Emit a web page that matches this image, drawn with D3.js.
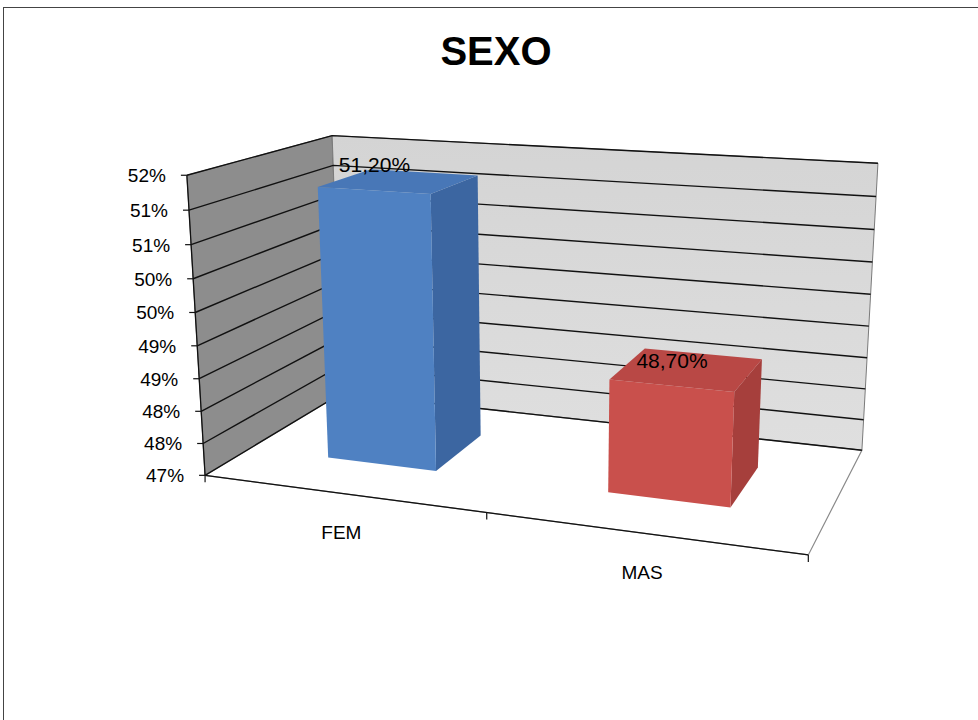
<!DOCTYPE html>
<html>
<head>
<meta charset="utf-8">
<script src="https://cdn.jsdelivr.net/npm/d3@7"></script>
<style>
  body { margin: 0; background: #fff; }
  svg { display: block; }
  text { font-family: "Liberation Sans", Arial, sans-serif; fill: #000; }
</style>
</head>
<body>
<svg id="chart" width="978" height="720"></svg>
<script>
// ---- data ----
const title = "SEXO";
const categories = ["FEM", "MAS"];
const values = [51.2, 48.7];
const valueLabels = ["51,20%", "48,70%"];
const tickValues = [47, 47.5, 48, 48.5, 49, 49.5, 50, 50.5, 51, 51.5];
const tickLabels = ["47%", "48%", "48%", "49%", "49%", "50%", "50%", "51%", "51%", "52%"];

// ---- styling ----
const palette = [
  { front: "#4f81c2", side: "#3c66a1", top: "#4877b7" },
  { front: "#c9504c", side: "#a63f3c", top: "#b94845" }
];

// The plot box is a unit cube (u: category, v: value, w: depth) seen in
// perspective; screen positions of its visible corners define the camera.
const boxCorners = [
  [[0, 0, 0], [205, 473]],
  [[0, 1, 0], [187, 175]],
  [[0, 1, 1], [332, 136]],
  [[1, 1, 1], [878, 163]],
  [[1, 0, 1], [862, 450]],
  [[1, 0, 0], [808, 553]],
  [[0.5, 0, 0], [487, 517]]
];

// Least-squares fit of a 3x4 projection matrix (last entry fixed to 1).
function fitCamera(pairs) {
  const A = [], b = [];
  pairs.forEach(([[u, v, w], [X, Y]]) => {
    A.push([u, v, w, 1, 0, 0, 0, 0, -X * u, -X * v, -X * w]); b.push(X);
    A.push([0, 0, 0, 0, u, v, w, 1, -Y * u, -Y * v, -Y * w]); b.push(Y);
  });
  const n = 11;
  const M = [];
  for (let i = 0; i < n; i++) {
    const row = new Array(n + 1).fill(0);
    for (let k = 0; k < A.length; k++) {
      for (let j = 0; j < n; j++) row[j] += A[k][i] * A[k][j];
      row[n] += A[k][i] * b[k];
    }
    M.push(row);
  }
  for (let c = 0; c < n; c++) {
    let piv = c;
    for (let r = c + 1; r < n; r++) if (Math.abs(M[r][c]) > Math.abs(M[piv][c])) piv = r;
    [M[c], M[piv]] = [M[piv], M[c]];
    for (let r = 0; r < n; r++) {
      if (r === c) continue;
      const f = M[r][c] / M[c][c];
      for (let k = c; k <= n; k++) M[r][k] -= f * M[c][k];
    }
  }
  return M.map((row, i) => row[n] / row[i]);
}

const P = fitCamera(boxCorners);
function project(u, v, w) {
  const d = P[8] * u + P[9] * v + P[10] * w + 1;
  return [
    (P[0] * u + P[1] * v + P[2] * w + P[3]) / d,
    (P[4] * u + P[5] * v + P[6] * w + P[7]) / d
  ];
}
const poly = pts => "M" + pts.map(p => project(...p).map(c => c.toFixed(2)).join(",")).join("L") + "Z";
const path = pts => "M" + pts.map(p => project(...p).map(c => c.toFixed(2)).join(",")).join("L");

// ---- scales ----
const xBand = d3.scaleBand().domain(categories).range([0, 1]).paddingInner(0.6).paddingOuter(0.3);
const vScale = d3.scaleLinear().domain([47, 51.5]).range([0, 1]);
const depth = [0.3, 0.7];

const svg = d3.select("#chart");

// chart area frame
svg.append("rect").attr("x", 3.5).attr("y", 7.5).attr("width", 1000).attr("height", 800)
  .attr("fill", "#fff").attr("stroke", "#444").attr("stroke-width", 1);

svg.append("text").attr("x", 496).attr("y", 65).attr("text-anchor", "middle")
  .attr("font-size", 40).attr("font-weight", "bold").text(title);

const defs = svg.append("defs");
const bw = defs.append("linearGradient").attr("id", "backWall").attr("x1", 0).attr("y1", 0).attr("x2", 0).attr("y2", 1);
bw.append("stop").attr("offset", 0).attr("stop-color", "#d4d4d4");
bw.append("stop").attr("offset", 1).attr("stop-color", "#dfdfdf");

const plot = svg.append("g");

// walls and floor
plot.append("path").attr("d", poly([[0, 0, 0], [0, 1, 0], [0, 1, 1], [0, 0, 1]]))
  .attr("fill", "#8d8d8d").attr("stroke", "#6a6a6a").attr("stroke-width", 1);
plot.append("path").attr("d", poly([[0, 0, 1], [0, 1, 1], [1, 1, 1], [1, 0, 1]]))
  .attr("fill", "url(#backWall)").attr("stroke", "#7a7a7a").attr("stroke-width", 1);
plot.append("path").attr("d", poly([[0, 0, 0], [1, 0, 0], [1, 0, 1], [0, 0, 1]]))
  .attr("fill", "#fff").attr("stroke", "#8a8a8a").attr("stroke-width", 1.2);

// gridlines across both walls
plot.append("g").selectAll("path").data(tickValues).join("path")
  .attr("d", t => path([[0, vScale(t), 0], [0, vScale(t), 1], [1, vScale(t), 1]]))
  .attr("fill", "none").attr("stroke", "#111").attr("stroke-width", 1.4);

// value axis along the front-left edge
plot.append("path").attr("d", path([[0, 0, 0], [0, 1, 0]]))
  .attr("stroke", "#111").attr("stroke-width", 1.3).attr("fill", "none");
const vTicks = plot.append("g").selectAll("g").data(tickValues).join("g")
  .attr("transform", t => `translate(${project(0, vScale(t), 0)})`);
vTicks.append("line").attr("x1", -6).attr("x2", 0).attr("stroke", "#111").attr("stroke-width", 1.2);
vTicks.append("text").data(tickLabels).attr("x", -21).attr("dy", "0.36em")
  .attr("text-anchor", "end").attr("font-size", 19).text(d => d);

// category axis along the front edge of the floor
plot.append("path").attr("d", path([[0, 0, 0], [1, 0, 0]]))
  .attr("stroke", "#111").attr("stroke-width", 1.3).attr("fill", "none");
const catTicks = [0, 0.5, 1];
plot.append("g").selectAll("line").data(catTicks).join("line")
  .attr("transform", u => `translate(${project(u, 0, 0)})`)
  .attr("y1", 0).attr("y2", 7).attr("stroke", "#111").attr("stroke-width", 1.2);
plot.append("g").selectAll("text").data(categories).join("text")
  .attr("transform", c => `translate(${project(xBand(c) + xBand.bandwidth() / 2, 0, 0)})`)
  .attr("y", 46).attr("text-anchor", "middle").attr("font-size", 19).text(c => c);

// columns
const bars = plot.append("g").selectAll("g").data(categories).join("g");
bars.each(function (c, i) {
  const g = d3.select(this);
  const u0 = xBand(c), u1 = u0 + xBand.bandwidth();
  const v0 = vScale(47), v1 = vScale(values[i]);
  const [w0, w1] = depth;
  const col = palette[i];
  g.append("path").attr("d", poly([[u1, v0, w0], [u1, v0, w1], [u1, v1, w1], [u1, v1, w0]])).attr("fill", col.side);
  g.append("path").attr("d", poly([[u0, v1, w0], [u1, v1, w0], [u1, v1, w1], [u0, v1, w1]])).attr("fill", col.top);
  g.append("path").attr("d", poly([[u0, v0, w0], [u1, v0, w0], [u1, v1, w0], [u0, v1, w0]])).attr("fill", col.front);
  const [lx, ly] = project((u0 + u1) / 2, v1, w0);
  g.append("text").attr("x", lx + 1).attr("y", ly - 18).attr("text-anchor", "middle")
    .attr("font-size", 21).text(valueLabels[i]);
});
</script>
</body>
</html>
